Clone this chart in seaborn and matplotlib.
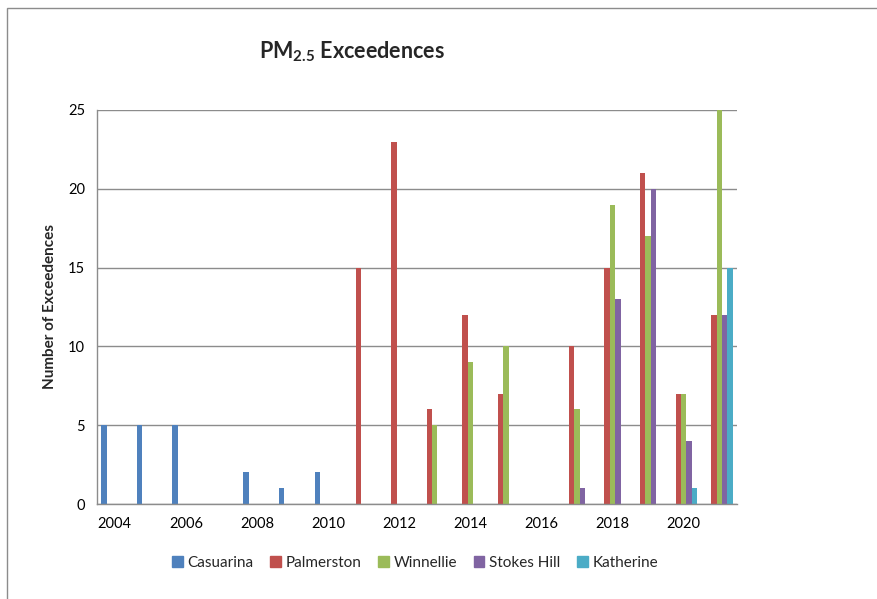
import numpy as np
import pandas as pd
import matplotlib
matplotlib.use("Agg")
import matplotlib.pyplot as plt
import seaborn as sns
from matplotlib.patches import Rectangle

# PM2.5 exceedences per station and year
years = list(range(2004, 2022))
casuarina = [5, 5, 5, 0, 2, 1, 2, 0, 0, 0, 0, 0, 0, 0, 0, 0, 0, 0]
palmerston = [0, 0, 0, 0, 0, 0, 0, 15, 23, 6, 12, 7, 0, 10, 15, 21, 7, 12]
winnellie = [0, 0, 0, 0, 0, 0, 0, 0, 0, 5, 9, 10, 0, 6, 19, 17, 7, 25]
stokes_hill = [0, 0, 0, 0, 0, 0, 0, 0, 0, 0, 0, 0, 0, 1, 13, 20, 4, 12]
katherine = [0, 0, 0, 0, 0, 0, 0, 0, 0, 0, 0, 0, 0, 0, 0, 0, 1, 15]
stations = ["Casuarina", "Palmerston", "Winnellie", "Stokes Hill", "Katherine"]
colors = ["#4F81BD", "#C0504D", "#9BBB59", "#8064A2", "#4BACC6"]

df = pd.DataFrame({"Year": years, "Casuarina": casuarina, "Palmerston": palmerston,
                   "Winnellie": winnellie, "Stokes Hill": stokes_hill, "Katherine": katherine})
df_long = df.melt(id_vars="Year", var_name="Station", value_name="Count")
df_long["Year"] = df_long["Year"].astype(str)

sns.set_style("white")
plt.rcParams['font.family'] = ['Lato', 'DejaVu Sans']
plt.rcParams['mathtext.default'] = 'regular'

fig = plt.figure(figsize=(8.77, 5.99), dpi=100)
ax = fig.add_axes([97/877, 1 - 504/599, 640/877, 394/599])

sns.barplot(data=df_long, x="Year", y="Count", hue="Station", hue_order=stations,
            palette=colors, width=0.76, linewidth=0, saturation=1, ax=ax, legend=False)

ax.set_xlim(-0.5, len(years) - 0.5)
ax.set_ylim(0, 25)
ax.set_yticks([0, 5, 10, 15, 20, 25])
ax.yaxis.grid(True, color="#8c8c8c", linewidth=1)
ax.set_axisbelow(True)

# labels every other year, tick marks on each half category
ax.set_xticks(range(len(years)))
ax.set_xticklabels([str(y) if (y - 2004) % 2 == 0 else "" for y in years])
ax.set_xticks(np.arange(-0.5, len(years), 1.0), minor=True)
ax.tick_params(axis="x", which="both", length=5, color="#8c8c8c", width=1, direction="out")
ax.tick_params(axis="y", length=5, color="#8c8c8c", width=1, direction="out")
ax.tick_params(axis="both", labelsize=10.5, colors="#8c8c8c", labelcolor="black")
ax.tick_params(axis="x", which="major", pad=4)

for s in ["top", "right"]:
    ax.spines[s].set_visible(False)
for s in ["left", "bottom"]:
    ax.spines[s].set_color("#8c8c8c")
    ax.spines[s].set_linewidth(1)

ax.set_xlabel("")
ax.set_ylabel("Number of Exceedences", fontsize=11, fontweight="bold", labelpad=8)

fig.text(352/877, 1 - 52/599, "PM$_{2.5}$ Exceedences", fontsize=15.5, fontweight="bold",
         ha="center", va="center")

handles = [Rectangle((0, 0), 1, 1, color=c) for c in colors]
fig.legend(handles, stations, loc="center", bbox_to_anchor=(415/877, 1 - 563/599),
           ncol=5, frameon=False, fontsize=11, handlelength=0.7, handleheight=0.7,
           handletextpad=0.3, columnspacing=1.1)

# chart frame
fig.patches.append(Rectangle((7/877, -0.1), 1.2, (599 - 8)/599 + 0.1, transform=fig.transFigure,
                             fill=False, edgecolor="#8c8c8c", linewidth=1))

fig.savefig("out.png", dpi=100)
